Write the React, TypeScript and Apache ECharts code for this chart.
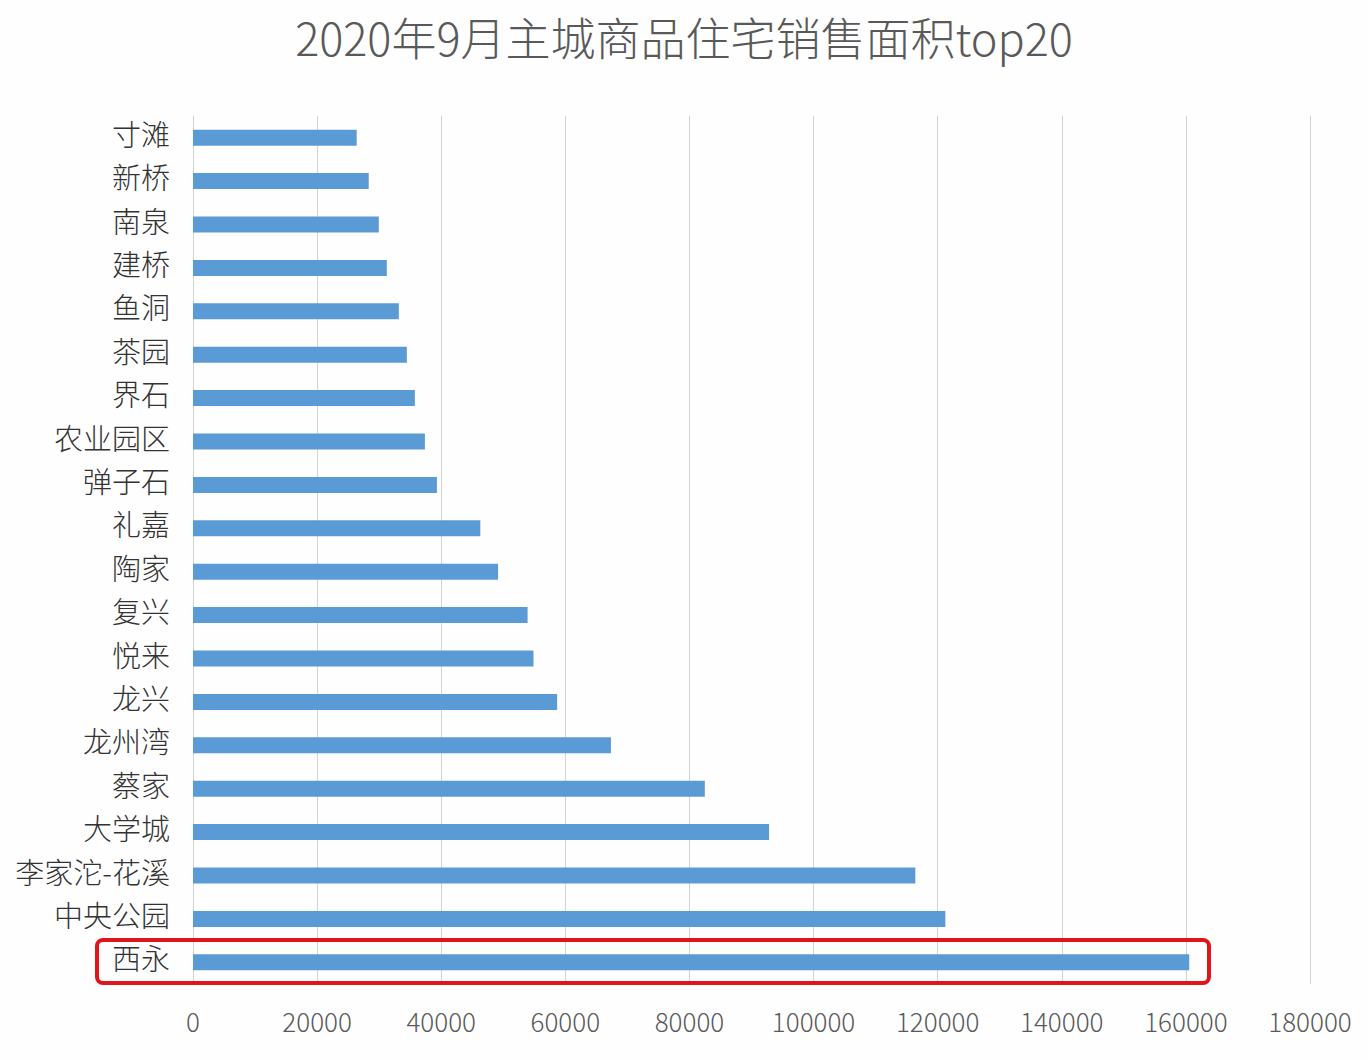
import React, { useEffect, useRef } from "react";
import * as echarts from "echarts";

const titleText = "2020年9月主城商品住宅销售面积top20";

const categories = [
  "寸滩", "新桥", "南泉", "建桥", "鱼洞", "茶园", "界石", "农业园区", "弹子石", "礼嘉",
  "陶家", "复兴", "悦来", "龙兴", "龙州湾", "蔡家", "大学城", "李家沱-花溪", "中央公园", "西永",
];

const salesArea = [
  26380, 28320, 29940, 31230, 33170, 34460, 35750, 37370, 39310, 46300,
  49160, 53920, 54870, 58680, 67350, 82480, 92830, 116400, 121240, 160540,
];

const axisMin = 0;
const axisMax = 180000;
const axisInterval = 20000;

const FONT = '"Noto Sans CJK SC", "Noto Sans", sans-serif';

export default function App() {
  const ref = useRef<HTMLDivElement>(null);

  useEffect(() => {
    if (!ref.current) return;
    const chart = echarts.init(ref.current, null, { renderer: "svg" });
    chart.setOption({
      animation: false,
      backgroundColor: "#fefefe",
      title: {
        text: titleText,
        left: "center",
        top: 9,
        textStyle: {
          fontFamily: FONT,
          fontSize: 45,
          fontWeight: 300,
          color: "#595959",
        },
      },
      grid: {
        left: 193,
        right: 58,
        top: 116,
        bottom: 76,
        containLabel: false,
      },
      xAxis: {
        type: "value",
        min: axisMin,
        max: axisMax,
        interval: axisInterval,
        axisLine: { show: false },
        axisTick: { show: false },
        axisLabel: {
          fontFamily: FONT,
          fontSize: 26,
          fontWeight: 300,
          color: "#595959",
          margin: 23,
          formatter: (v: number) => String(v),
        },
        splitLine: { show: true, lineStyle: { color: "#d4d4d4", width: 1 } },
      },
      yAxis: {
        type: "category",
        data: categories,
        inverse: true,
        axisLine: { show: true, lineStyle: { color: "#d4d4d4", width: 1 } },
        axisTick: { show: false },
        axisLabel: {
          margin: 23,
          formatter: (v: string) => "{n|" + v + "}",
          rich: {
            n: {
              fontFamily: FONT,
              fontSize: 29,
              fontWeight: 300,
              color: "#333333",
              padding: [0, 0, 10, 0],
            },
          },
        },
      },
      series: [
        {
          type: "bar",
          data: salesArea,
          barWidth: 16,
          itemStyle: { color: "#5b9bd5" },
        },
      ],
      graphic: [
        {
          type: "rect",
          shape: { x: 97, y: 940, width: 1112, height: 43, r: 6 },
          style: { fill: "none", stroke: "#e0141a", lineWidth: 4 },
          z: 100,
        },
      ],
    });
    return () => chart.dispose();
  }, []);

  return (
    <div
      ref={ref}
      style={{ position: "absolute", left: 0, top: 0, width: 1368, height: 1060 }}
    />
  );
}
